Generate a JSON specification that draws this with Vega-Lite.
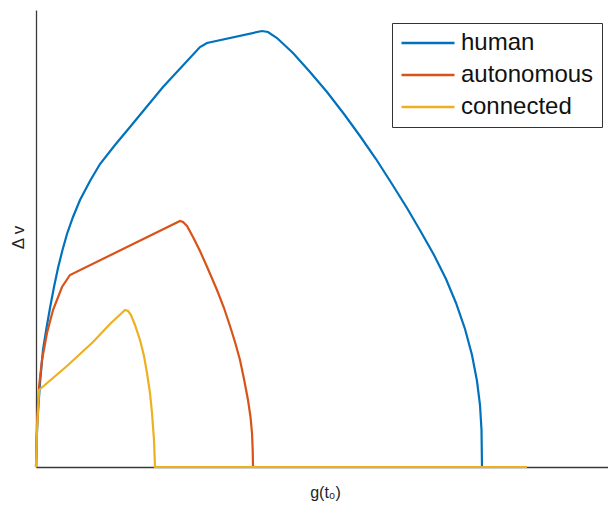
{
  "$schema": "https://vega.github.io/schema/vega-lite/v6.json",
  "width": 572,
  "height": 457,
  "autosize": {"type": "none"},
  "padding": {"left": 36, "top": 10, "right": 0, "bottom": 39},
  "background": "white",
  "config": {
    "view": {"stroke": null},
    "font": "Liberation Sans"
  },
  "data": {
    "values": [
      {"s": "human", "i": 0, "g": 0, "dv": 0},
      {"s": "human", "i": 1, "g": 0.5, "dv": 22},
      {"s": "human", "i": 2, "g": 1.5, "dv": 47},
      {"s": "human", "i": 3, "g": 4, "dv": 84},
      {"s": "human", "i": 4, "g": 7, "dv": 117},
      {"s": "human", "i": 5, "g": 10.5, "dv": 139},
      {"s": "human", "i": 6, "g": 14, "dv": 159},
      {"s": "human", "i": 7, "g": 18, "dv": 180},
      {"s": "human", "i": 8, "g": 22, "dv": 199},
      {"s": "human", "i": 9, "g": 26.5, "dv": 217},
      {"s": "human", "i": 10, "g": 31, "dv": 233},
      {"s": "human", "i": 11, "g": 37, "dv": 250},
      {"s": "human", "i": 12, "g": 44, "dv": 267},
      {"s": "human", "i": 13, "g": 54, "dv": 286},
      {"s": "human", "i": 14, "g": 64, "dv": 303},
      {"s": "human", "i": 15, "g": 79, "dv": 322},
      {"s": "human", "i": 16, "g": 94, "dv": 340},
      {"s": "human", "i": 17, "g": 127, "dv": 380},
      {"s": "human", "i": 18, "g": 164, "dv": 420},
      {"s": "human", "i": 19, "g": 171, "dv": 424},
      {"s": "human", "i": 20, "g": 226, "dv": 436},
      {"s": "human", "i": 21, "g": 232, "dv": 435},
      {"s": "human", "i": 22, "g": 241, "dv": 429},
      {"s": "human", "i": 23, "g": 257, "dv": 414},
      {"s": "human", "i": 24, "g": 274, "dv": 395},
      {"s": "human", "i": 25, "g": 291, "dv": 375},
      {"s": "human", "i": 26, "g": 308, "dv": 353},
      {"s": "human", "i": 27, "g": 324, "dv": 331},
      {"s": "human", "i": 28, "g": 340, "dv": 308},
      {"s": "human", "i": 29, "g": 356, "dv": 283},
      {"s": "human", "i": 30, "g": 371, "dv": 259},
      {"s": "human", "i": 31, "g": 385, "dv": 235},
      {"s": "human", "i": 32, "g": 398, "dv": 212},
      {"s": "human", "i": 33, "g": 410, "dv": 188},
      {"s": "human", "i": 34, "g": 420, "dv": 164},
      {"s": "human", "i": 35, "g": 429, "dv": 138},
      {"s": "human", "i": 36, "g": 436, "dv": 112},
      {"s": "human", "i": 37, "g": 441, "dv": 86},
      {"s": "human", "i": 38, "g": 444, "dv": 62},
      {"s": "human", "i": 39, "g": 445.5, "dv": 37},
      {"s": "human", "i": 40, "g": 446, "dv": 0},
      {"s": "human", "i": 41, "g": 491, "dv": 0},
      {"s": "autonomous", "i": 0, "g": 0, "dv": 0},
      {"s": "autonomous", "i": 1, "g": 1, "dv": 42},
      {"s": "autonomous", "i": 2, "g": 3, "dv": 80},
      {"s": "autonomous", "i": 3, "g": 6, "dv": 107},
      {"s": "autonomous", "i": 4, "g": 11, "dv": 134},
      {"s": "autonomous", "i": 5, "g": 17, "dv": 157},
      {"s": "autonomous", "i": 6, "g": 26, "dv": 180},
      {"s": "autonomous", "i": 7, "g": 34, "dv": 192},
      {"s": "autonomous", "i": 8, "g": 144, "dv": 246},
      {"s": "autonomous", "i": 9, "g": 147, "dv": 245},
      {"s": "autonomous", "i": 10, "g": 151, "dv": 241},
      {"s": "autonomous", "i": 11, "g": 157, "dv": 230},
      {"s": "autonomous", "i": 12, "g": 164, "dv": 216},
      {"s": "autonomous", "i": 13, "g": 172, "dv": 198},
      {"s": "autonomous", "i": 14, "g": 181, "dv": 177},
      {"s": "autonomous", "i": 15, "g": 188, "dv": 159},
      {"s": "autonomous", "i": 16, "g": 194, "dv": 141},
      {"s": "autonomous", "i": 17, "g": 199, "dv": 125},
      {"s": "autonomous", "i": 18, "g": 204, "dv": 107},
      {"s": "autonomous", "i": 19, "g": 208, "dv": 88},
      {"s": "autonomous", "i": 20, "g": 212, "dv": 67},
      {"s": "autonomous", "i": 21, "g": 214.5, "dv": 50},
      {"s": "autonomous", "i": 22, "g": 216, "dv": 34},
      {"s": "autonomous", "i": 23, "g": 216.7, "dv": 17},
      {"s": "autonomous", "i": 24, "g": 217, "dv": 0},
      {"s": "autonomous", "i": 25, "g": 491, "dv": 0},
      {"s": "connected", "i": 0, "g": 0, "dv": 0},
      {"s": "connected", "i": 1, "g": 1, "dv": 37},
      {"s": "connected", "i": 2, "g": 3, "dv": 77},
      {"s": "connected", "i": 3, "g": 31, "dv": 101},
      {"s": "connected", "i": 4, "g": 57, "dv": 125},
      {"s": "connected", "i": 5, "g": 74, "dv": 143},
      {"s": "connected", "i": 6, "g": 89, "dv": 157},
      {"s": "connected", "i": 7, "g": 92, "dv": 156},
      {"s": "connected", "i": 8, "g": 95, "dv": 152},
      {"s": "connected", "i": 9, "g": 99, "dv": 142},
      {"s": "connected", "i": 10, "g": 104, "dv": 127},
      {"s": "connected", "i": 11, "g": 108, "dv": 111},
      {"s": "connected", "i": 12, "g": 111, "dv": 94},
      {"s": "connected", "i": 13, "g": 114, "dv": 74},
      {"s": "connected", "i": 14, "g": 116, "dv": 54},
      {"s": "connected", "i": 15, "g": 118, "dv": 27},
      {"s": "connected", "i": 16, "g": 119, "dv": 0},
      {"s": "connected", "i": 17, "g": 491, "dv": 0}
    ]
  },
  "encoding": {
    "x": {
      "field": "g",
      "type": "quantitative",
      "scale": {"domain": [0, 572], "nice": false, "zero": false},
      "axis": {
        "title": "g(t₀)",
        "ticks": false,
        "labels": false,
        "grid": false,
        "domainColor": "#3a3a3a",
        "domainWidth": 1.3,
        "titleFontSize": 16,
        "titleFontWeight": "normal",
        "titleColor": "#222222",
        "titleX": 289,
        "titleY": 30,
        "titleBaseline": "alphabetic"
      }
    },
    "y": {
      "field": "dv",
      "type": "quantitative",
      "scale": {"domain": [0, 457], "nice": false, "zero": false},
      "axis": {
        "title": "Δ v",
        "ticks": false,
        "labels": false,
        "grid": false,
        "domainColor": "#3a3a3a",
        "domainWidth": 1.3,
        "titleFontSize": 17,
        "titleFontWeight": "normal",
        "titleColor": "#222222",
        "titleX": -18,
        "titleY": 227,
        "titleBaseline": "middle",
        "titleAlign": "center",
        "titleAngle": 270
      }
    },
    "order": {"field": "i", "type": "quantitative"},
    "color": {
      "field": "s",
      "type": "nominal",
      "scale": {
        "domain": ["human", "autonomous", "connected"],
        "range": ["#0072BD", "#D95319", "#EDB120"]
      },
      "legend": {
        "title": null,
        "orient": "none",
        "legendX": 356,
        "legendY": 13,
        "symbolType": "stroke",
        "symbolSize": 2809,
        "symbolStrokeWidth": 2.5,
        "clipHeight": 24,
        "labelFontSize": 24,
        "labelColor": "#111111",
        "labelOffset": 5,
        "strokeColor": "#333333",
        "padding": 8,
        "rowPadding": 8
      }
    }
  },
  "layer": [
    {
      "transform": [{"filter": "datum.s == 'human'"}],
      "mark": {"type": "line", "strokeWidth": 2.2}
    },
    {
      "transform": [{"filter": "datum.s == 'autonomous'"}],
      "mark": {"type": "line", "strokeWidth": 2.2}
    },
    {
      "transform": [{"filter": "datum.s == 'connected'"}],
      "mark": {"type": "line", "strokeWidth": 2.2}
    }
  ]
}
